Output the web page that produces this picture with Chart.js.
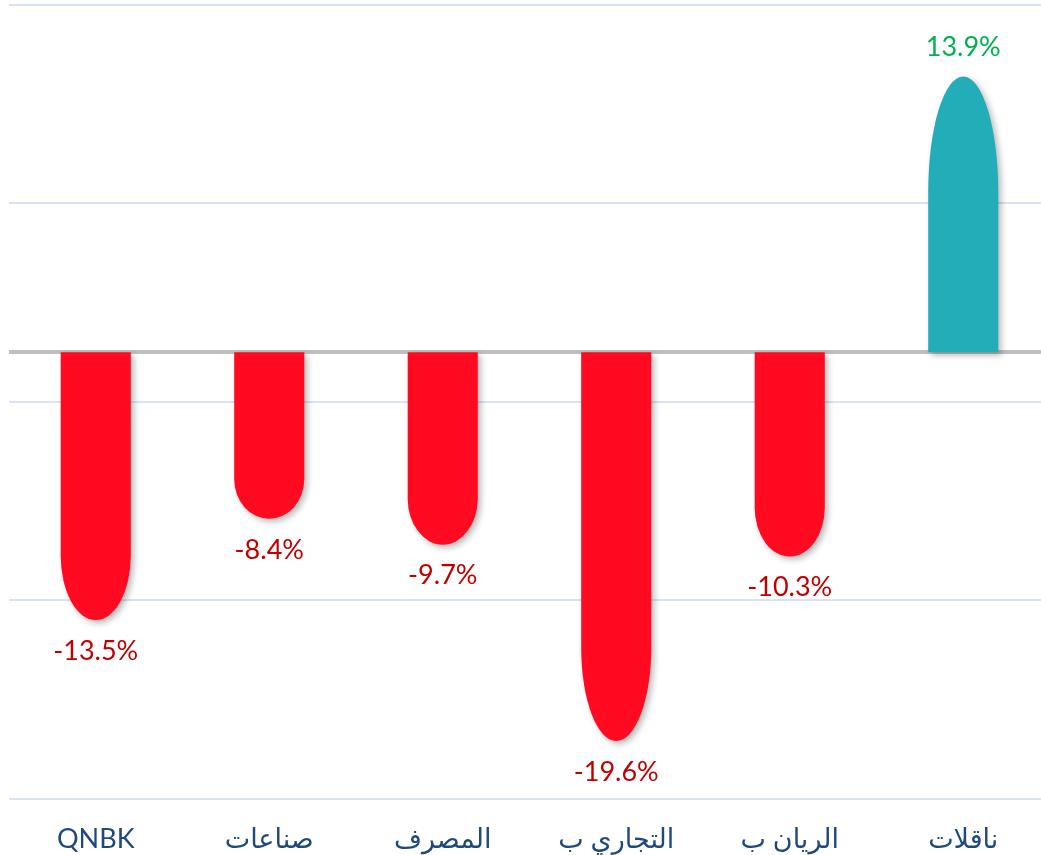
<!DOCTYPE html>
<html>
<head>
<meta charset="utf-8">
<script src="https://cdn.jsdelivr.net/npm/chart.js@4.4.1/dist/chart.umd.min.js"></script>
<style>
  html, body { margin: 0; padding: 0; background: #fff; overflow: hidden; }
  #wrap { width: 1050px; height: 855px; }
</style>
</head>
<body>
<div id="wrap"><canvas id="stocksChart" width="1050" height="855"></canvas></div>
<script>
const categories = ['QNBK', 'صناعات', 'المصرف', 'التجاري ب', 'الريان ب', 'ناقلات'];
const changes = [-13.5, -8.4, -9.7, -19.6, -10.3, 13.9];
const gridTicks = [-22.5, -12.5, -2.5, 7.5, 17.5];
const zeroTick = [0];

const upColor = '#23adb9';
const downColor = '#ff0a21';
const fontFamily = 'Lato, "DejaVu Sans", sans-serif';

// bars with a long rounded (half-ellipse) end instead of square corners
Chart.elements.BarElement.prototype.draw = function (ctx) {
    const half = this.width / 2;
    const len = Math.abs(this.base - this.y);
    if (!len) return;
    const dir = this.y > this.base ? 1 : -1;
    const ry = Math.min(len, Math.max(half, len * (dir > 0 ? 0.24 : 0.42)));
    const cy = this.y - dir * ry;
    ctx.save();
    ctx.fillStyle = this.options.backgroundColor;
    ctx.shadowColor = 'rgba(0,0,0,0.28)';
    ctx.shadowBlur = 6;
    ctx.shadowOffsetX = 3;
    ctx.shadowOffsetY = 3;
    ctx.beginPath();
    ctx.moveTo(this.x - half, this.base);
    ctx.lineTo(this.x - half, cy);
    ctx.ellipse(this.x, cy, half, ry, 0, Math.PI, 0, dir > 0);
    ctx.lineTo(this.x + half, this.base);
    ctx.closePath();
    ctx.fill();
    ctx.restore();
};

const valueLabels = {
    id: 'valueLabels',
    afterDatasetsDraw(chart) {
        const ctx = chart.ctx;
        const meta = chart.getDatasetMeta(0);
        ctx.save();
        ctx.font = '27px ' + fontFamily;
        ctx.textAlign = 'center';
        ctx.textBaseline = 'middle';
        meta.data.forEach((bar, i) => {
            const v = changes[i];
            ctx.fillStyle = v < 0 ? '#c00000' : '#00b050';
            ctx.fillText(v.toFixed(1) + '%', bar.x, bar.y + (v < 0 ? 31 : -29));
        });
        ctx.restore();
    }
};

new Chart(document.getElementById('stocksChart'), {
    type: 'bar',
    data: {
        labels: categories,
        datasets: [{
            data: changes,
            backgroundColor: changes.map(v => v < 0 ? downColor : upColor),
            categoryPercentage: 1,
            barPercentage: 0.404
        }]
    },
    options: {
        responsive: false,
        animation: false,
        layout: { padding: { left: 9, top: 5, right: 0, bottom: 0 } },
        plugins: { legend: { display: false }, tooltip: { enabled: false } },
        scales: {
            x: {
                grid: { display: false, drawTicks: true, tickLength: 24 },
                border: { display: false },
                ticks: {
                    color: '#1f497d',
                    font: { family: fontFamily, size: 27 },
                    padding: 0,
                    maxRotation: 0,
                    autoSkip: false
                }
            },
            y: {
                min: -22.5,
                max: 17.5,
                border: { display: false },
                grid: { color: '#dae3f3', lineWidth: 2, drawTicks: false },
                ticks: { display: false },
                afterBuildTicks: s => { s.ticks = gridTicks.map(v => ({ value: v })); }
            },
            zero: {
                type: 'linear',
                axis: 'y',
                position: 'left',
                min: -22.5,
                max: 17.5,
                z: 1,
                border: { display: false },
                grid: { color: '#bfbfbf', lineWidth: 4, drawTicks: false },
                ticks: { display: false },
                afterBuildTicks: s => { s.ticks = zeroTick.map(v => ({ value: v })); }
            }
        }
    },
    plugins: [valueLabels]
});
</script>
</body>
</html>
